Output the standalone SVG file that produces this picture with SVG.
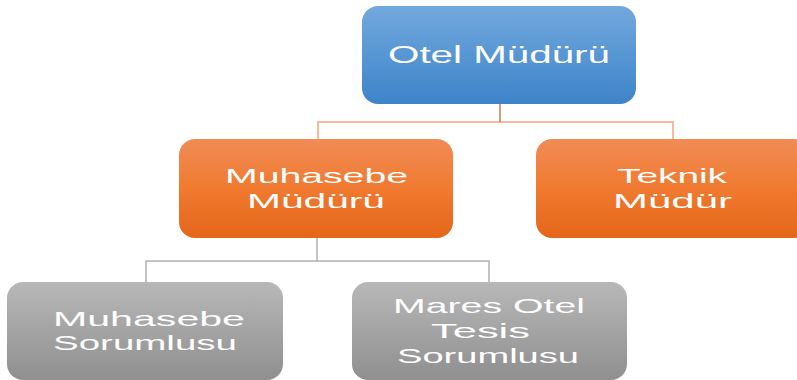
<svg xmlns="http://www.w3.org/2000/svg" width="797" height="380" viewBox="0 0 797 380">
<defs>
<linearGradient id="gBlue" x1="0" y1="0" x2="0" y2="1"><stop offset="0" stop-color="#72a9de"/><stop offset="1" stop-color="#3d84c8"/></linearGradient>
<linearGradient id="gOrange" x1="0" y1="0" x2="0" y2="1"><stop offset="0" stop-color="#f08c55"/><stop offset="0.5" stop-color="#f07a30"/><stop offset="1" stop-color="#e4661a"/></linearGradient>
<linearGradient id="gGray" x1="0" y1="0" x2="0" y2="1"><stop offset="0" stop-color="#b8b8b8"/><stop offset="1" stop-color="#8f8f8f"/></linearGradient>
<style>
text{font-family:"Liberation Sans",Arial,sans-serif;font-size:21px;fill:#ffffff;text-anchor:start}
.c1{fill:none;stroke:#f2a57a;stroke-width:1.5}
.c2{fill:none;stroke:#b0b0b0;stroke-width:1.5}
.vd{fill:none;stroke:#c07a55;stroke-width:1.5}
</style>
</defs>
<g id="connectors">
<path class="c1" d="M318,139 V122 H673 V139"/>
<path class="vd" d="M500,104 V122"/>
<path class="c2" d="M146,282 V261 H489 V282"/>
<path class="c2" d="M317,238 V261" stroke="#999"/>
</g>
<g id="otel-muduru">
<rect x="362" y="6" width="274" height="98" rx="16" fill="url(#gBlue)"/>
<text x="388" y="63" textLength="222" lengthAdjust="spacingAndGlyphs" style="font-size:23px">Otel Müdürü</text>
</g>
<g id="muhasebe-muduru">
<rect x="179" y="139" width="274" height="99" rx="16" fill="url(#gOrange)"/>
<text x="225" y="183" textLength="183" lengthAdjust="spacingAndGlyphs">Muhasebe</text>
<text x="247" y="208" textLength="138" lengthAdjust="spacingAndGlyphs">Müdürü</text>
</g>
<g id="teknik-mudur">
<rect x="536" y="139" width="274" height="99" rx="16" fill="url(#gOrange)"/>
<text x="617" y="183" textLength="110" lengthAdjust="spacingAndGlyphs">Teknik</text>
<text x="613" y="208" textLength="119" lengthAdjust="spacingAndGlyphs">Müdür</text>
</g>
<g id="muhasebe-sorumlusu">
<rect x="7" y="282" width="276" height="98" rx="16" fill="url(#gGray)"/>
<text x="53" y="326" textLength="192" lengthAdjust="spacingAndGlyphs">Muhasebe</text>
<text x="53" y="350" textLength="184" lengthAdjust="spacingAndGlyphs">Sorumlusu</text>
</g>
<g id="mares-otel-tesis-sorumlusu">
<rect x="352" y="282" width="275" height="98" rx="16" fill="url(#gGray)"/>
<text x="393" y="313" textLength="192" lengthAdjust="spacingAndGlyphs">Mares Otel</text>
<text x="431" y="338" textLength="99" lengthAdjust="spacingAndGlyphs">Tesis</text>
<text x="397" y="363" textLength="182" lengthAdjust="spacingAndGlyphs">Sorumlusu</text>
</g>
</svg>
